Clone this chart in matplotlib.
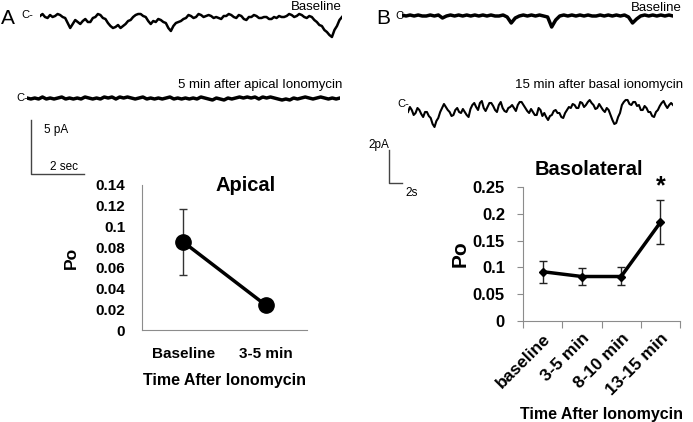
import matplotlib
matplotlib.use("Agg")
import matplotlib.pyplot as plt
import numpy as np

plt.rcParams['font.family'] = ['Liberation Sans', 'DejaVu Sans']

W, H = 693, 422

# single channel traces, downward deflection (pixels of the original record)
trace_a_base = [2, 0, 3, 4, 1, 3, 2, 0, 1, 3, 4, 9, 14, 10, 6, 8, 10, 7, 5, 8, 8, 4, 3, 0, 1, 4, 5, 9,
                12, 14, 13, 11, 14, 12, 10, 7, 6, 3, 1, 0, 0, 2, 3, 7, 10, 7, 8, 5, 6, 8, 9, 14, 17, 12,
                9, 8, 7, 5, 4, 1, 2, 4, 3, 0, 1, 3, 2, 1, 2, 4, 3, 4, 5, 2, 2, 0, 1, 3, 4, 1, 2, 5, 6,
                3, 3, 1, 2, 4, 4, 3, 3, 5, 5, 3, 4, 2, 3, 3, 2, 0, 1, 3, 2, 0, 1, 3, 4, 2, 3, 6, 8, 11,
                12, 16, 18, 21, 23, 16, 12, 6, 3]
trace_a_iono = [0, 1, 0, 1, -1, 1, 0, 1, 0, -1, 1, 0, 1, 0, 1, -1, 0, 1, 0, 1, -1, 0, -1, 1, -1, 0, -1,
                0, 1, 0, -1, 1, 0, 1, 0, 1, 0, -1, 1, 0, 1, 0, 1, 0, 1, -1, 0, 1, 2, 0, 1, 2, 0, 1, 0,
                -1, 0, -1, 0, -1, 1, -1, 0, -1, 0, 1, 2, 1, 2, 0, 1, 0, -1, 0, 1, 0, -1, 0, 1, 0, 1, 0]
trace_b_base = [0, 1, 0, 1, 0, 1, 1, 0, 1, 0, 3, 1, 0, 1, 0, 1, 0, 1, 0, 1, 0, 1, 0, 1, 1, 0, 2, 8, 3,
                1, 0, 1, 0, 1, 0, 1, 2, 12, 5, 1, 0, 1, 0, 1, 0, 1, 0, 1, 1, 0, 1, 0, 1, 0, 1, 0, 2, 8,
                4, 1, 0, 1, 0, 1, 0, 1, 0, 1]
trace_b_iono = [12, 7, 10, 15, 13, 8, 10, 14, 17, 12, 12, 16, 18, 24, 27, 21, 18, 12, 8, 4, 7, 10, 12,
                16, 15, 10, 8, 12, 13, 9, 12, 15, 17, 9, 5, 3, 7, 10, 3, 1, 8, 11, 7, 3, 3, 6, 10, 12,
                5, 2, 8, 11, 12, 8, 7, 5, 8, 11, 5, 2, 2, 5, 8, 11, 13, 9, 12, 15, 15, 8, 10, 16, 13,
                17, 20, 16, 15, 11, 10, 13, 13, 17, 18, 13, 10, 7, 8, 4, 5, 8, 8, 2, 3, 7, 5, 2, 0, 3,
                5, 9, 8, 4, 7, 10, 12, 8, 10, 15, 20, 24, 23, 17, 13, 5, 2, 0, 0, 4, 5, 2, 2, 6, 5, 10,
                10, 6, 8, 12, 12, 16, 17, 12, 10, 6, 3, 1, 5, 8, 5, 3, 5]

# open probability
apical_labels = ["Baseline", "3-5 min"]
apical_po = [0.085, 0.024]
apical_err = [0.032, 0.0]

baso_labels = ["baseline", "3-5 min", "8-10 min", "13-15 min"]
baso_po = [0.092, 0.083, 0.083, 0.184]
baso_err_lo = [0.021, 0.015, 0.015, 0.041]
baso_err_hi = [0.020, 0.015, 0.017, 0.042]


def box(x0, y0, x1, y1):
    return [x0 / W, 1 - y1 / H, (x1 - x0) / W, (y1 - y0) / H]


def txt(x, y, s, **kw):
    fig.text(x / W, 1 - y / H, s, **kw)


fig = plt.figure(figsize=(W / 100, H / 100), dpi=100)


def trace(vals, x0, x1, level, up, down, lw):
    ax = fig.add_axes(box(x0, level - up, x1, level + down))
    ax.plot(np.arange(len(vals)), -np.array(vals), color='black', lw=lw)
    ax.set_xlim(0, len(vals) - 1)
    ax.set_ylim(-down, up)
    ax.axis('off')


trace(trace_a_base, 40, 342, 14, 10, 30, 1.8)
trace(trace_a_iono, 27, 340, 98, 6, 6, 2.5)
trace(trace_b_base, 402, 673, 15, 10, 20, 2.5)
trace(trace_b_iono, 408, 673, 100, 10, 30, 1.5)

txt(1, 18, "A", fontsize=15, va='center')
txt(376, 18, "B", fontsize=15, va='center')
txt(21, 15, "C-", fontsize=8, va='center')
txt(16, 98, "C-", fontsize=8, va='center')
txt(395, 16, "C", fontsize=8, va='center')
txt(397, 104, "C-", fontsize=8, va='center')
txt(342, 7, "Baseline", fontsize=9.5, ha='right', va='center')
txt(342, 85, "5 min after apical Ionomycin", fontsize=9.5, ha='right', va='center')
txt(682, 8, "Baseline", fontsize=9.5, ha='right', va='center')
txt(683, 85, "15 min after basal ionomycin", fontsize=9.5, ha='right', va='center')

# scale bars
bar = fig.add_axes([0, 0, 1, 1])
bar.set_xlim(0, W)
bar.set_ylim(H, 0)
bar.axis('off')
bar.plot([31, 31, 84], [120, 174, 174], color='#444444', lw=1)
bar.plot([389, 389, 402], [150, 183, 183], color='#444444', lw=1)
txt(44, 130, "5 pA", fontsize=8.5, va='center')
txt(50, 167, "2 sec", fontsize=8.5, va='center')
txt(368, 145, "2pA", fontsize=8.5, va='center')
txt(405, 193, "2s", fontsize=8.5, va='center')

# Apical plot
ax1 = fig.add_axes(box(142, 185, 307, 330))
xa = np.arange(len(apical_po)) + 0.5
ax1.errorbar(xa, apical_po, yerr=apical_err, color='black', lw=2.5, marker='o', ms=11,
             ecolor='#333333', elinewidth=1, capsize=3, capthick=1)
ax1.set_xlim(0, 2)
ax1.set_ylim(0, 0.14)
ax1.set_yticks(np.arange(0, 0.141, 0.02))
ax1.set_yticklabels(["0", "0.02", "0.04", "0.06", "0.08", "0.1", "0.12", "0.14"])
ax1.set_xticks(xa)
ax1.set_xticklabels(apical_labels)
for s in ['top', 'right']:
    ax1.spines[s].set_visible(False)
for s in ['left', 'bottom']:
    ax1.spines[s].set_color('#8c8c8c')
ax1.tick_params(axis='y', length=0, labelsize=11, pad=12)
ax1.tick_params(axis='x', length=0, labelsize=11, pad=12)
for lab in ax1.get_xticklabels() + ax1.get_yticklabels():
    lab.set_fontweight('bold')
ax1.set_title("Apical", fontsize=14.5, fontweight='bold', x=0.63, y=0.9)
ax1.set_ylabel("Po", fontsize=12.5, fontweight='bold', labelpad=12)
ax1.set_xlabel("Time After Ionomycin", fontsize=11.5, fontweight='bold', labelpad=9)

# Basolateral plot
ax2 = fig.add_axes(box(523, 187, 680, 321))
xb = np.arange(len(baso_po)) + 0.5
ax2.errorbar(xb, baso_po, yerr=[baso_err_lo, baso_err_hi], color='black', lw=2.5, marker='D', ms=4,
             ecolor='#222222', elinewidth=1, capsize=3, capthick=1)
ax2.set_xlim(0, 4)
ax2.set_ylim(0, 0.25)
ax2.set_yticks(np.arange(0, 0.251, 0.05))
ax2.set_yticklabels(["0", "0.05", "0.1", "0.15", "0.2", "0.25"])
ax2.set_xticks(np.arange(0, 5))
ax2.set_xticklabels([])
ax2.set_xticks(xb, minor=True)
ax2.set_xticklabels(baso_labels, minor=True, rotation=45, ha='right', rotation_mode='anchor')
ax2.tick_params(axis='x', which='major', length=5, color='#8c8c8c')
ax2.tick_params(axis='x', which='minor', length=0, labelsize=12.5, pad=7)
ax2.tick_params(axis='y', length=4, color='#8c8c8c', labelsize=12, pad=9)
for s in ['top', 'right']:
    ax2.spines[s].set_visible(False)
for s in ['left', 'bottom']:
    ax2.spines[s].set_color('#8c8c8c')
for lab in ax2.get_xticklabels(minor=True) + ax2.get_yticklabels():
    lab.set_fontweight('bold')
ax2.text(xb[3], 0.228, "*", ha='center', va='bottom', fontsize=18, fontweight='bold')
ax2.set_title("Basolateral", fontsize=14.5, fontweight='bold', x=0.42, y=1.03)
ax2.set_ylabel("Po", fontsize=15, fontweight='bold', labelpad=2)
ax2.set_xlabel("Time After Ionomycin", fontsize=11.5, fontweight='bold', labelpad=6)

fig.savefig("out.png", dpi=100)
